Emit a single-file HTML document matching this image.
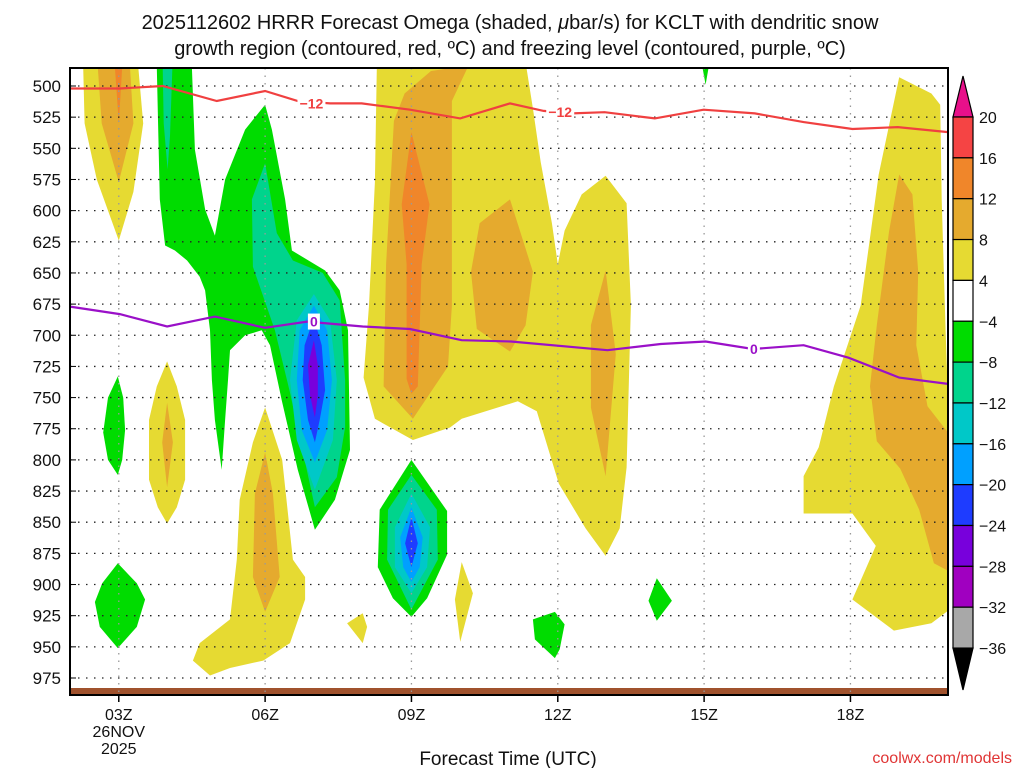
<!DOCTYPE html>
<html><head><meta charset="utf-8"><style>
body{margin:0;background:#fff}
svg{display:block;font-family:"Liberation Sans","DejaVu Sans",sans-serif}
</style></head><body>
<svg id="chart" width="1024" height="768" viewBox="0 0 1024 768" xmlns="http://www.w3.org/2000/svg">
<rect width="1024" height="768" fill="#fff"/>
<text x="510" y="29" font-size="20" text-anchor="middle" fill="#111">2025112602 HRRR Forecast Omega (shaded, <tspan font-style="italic">μ</tspan>bar/s) for KCLT with dendritic snow</text>
<text x="510" y="55" font-size="20" text-anchor="middle" fill="#111">growth region (contoured, red, ºC) and freezing level (contoured, purple, ºC)</text>
<g id="fields"></g>
<g id="grid"></g>
<g id="lines"></g>
<g id="axes"></g>
<g id="cbar"></g>
<text x="508" y="765" font-size="19" text-anchor="middle" fill="#111">Forecast Time (UTC)</text>
<text x="1012" y="763" font-size="16" text-anchor="end" fill="#e03535">coolwx.com/models</text>
</svg>
<script>
// ---- data (hour after 00Z, pressure hPa) ----
const pressureTicks = [500,525,550,575,600,625,650,675,700,725,750,775,800,825,850,875,900,925,950,975];
const hourTicks = [3,6,9,12,15,18];
const hourTickLabels = ["03Z","06Z","09Z","12Z","15Z","18Z"];
const cbarLabels = ["20","16","12","8","4","−4","−8","−12","−16","−20","−24","−28","−32","−36"];

const redLine = [[2,502],[3.02,502],[3.9,500],[5.01,512],[6,504],[6.67,512],[7.33,514],[7.98,514],[8.97,519],[10,526],[11.02,514],[11.71,520],[12.3,522],[12.96,521],[13.99,526],[14.99,519],[16.04,522],[17.04,529],[18.04,534.5],[18.97,533],[20,537]];
const redLabels = [[6.95,514],[12.05,521]];
const purpleLine = [[2,677],[3.02,683],[3.99,693],[4.97,685],[6,694],[6.86,689],[8,693],[8.97,695],[10.03,704],[11.04,705],[13.02,712],[14.11,707],[15.03,705],[16,711],[17.04,708],[17.96,718],[19,734],[20,739]];
const purpleLabels = [[7,689],[16.02,711]];

const yellowLeft = [[2.27,485],[2.3,530],[2.55,575],[3.0,624],[3.3,585],[3.5,530],[3.4,485]];
const goldLeft = [[2.57,485],[2.65,530],[3.0,577],[3.3,530],[3.23,485]];
const orangeLeft = [[2.92,485],[3.0,530],[3.07,485]];
const yellowMid = [[8.29,486],[8.25,577],[8.13,676],[8.02,734],[8.25,767],[9.03,784],[9.79,774],[10.03,767],[11.18,753],[11.57,761],[12.02,819],[12.57,855],[12.98,877],[13.27,855],[13.41,806],[13.5,676],[13.41,594],[12.98,572],[12.49,587],[12.14,616],[12,643],[11.88,610],[11.65,561],[11.49,518],[11.36,486]];
const goldMid = [[9.73,486],[10.14,486],[9.83,512],[9.83,676],[9.75,725],[9.03,767],[8.43,741],[8.48,643],[8.64,528],[8.86,506],[9.4,488]];
const orangeMid = [[9,537],[9.37,595],[9.21,643],[9.13,741],[9,747],[8.9,735],[8.9,643],[8.8,595]];
const goldBlob11 = [[11.02,591],[11.49,649],[11.34,692],[11.02,713],[10.34,695],[10.22,649],[10.4,610]];
const gold13 = [[12.98,648],[13.19,715],[12.98,813],[12.68,758],[12.68,692]];
const yellowRight = [[19,493],[19.66,506],[19.84,515],[19.87,591],[19.95,696],[20,752],[20,921],[19.66,931],[18.89,937],[18.04,912],[18.52,869],[18.04,843],[17.04,843],[17.04,813],[17.35,790],[17.66,741],[18.21,676],[18.58,571]];
const goldRight = [[19,571],[19.27,587],[19.39,649],[19.35,708],[19.58,757],[20,778],[20,889],[19.71,883],[19.41,840],[19.02,807],[18.54,785],[18.4,741],[18.54,692],[18.79,617]];
const yellowSmall4 = [[3.99,721],[4.19,741],[4.36,768],[4.36,816],[4.19,838],[3.99,851],[3.8,838],[3.62,816],[3.62,768],[3.78,741]];
const goldSmall4 = [[3.99,754],[4.11,786],[3.99,822],[3.89,786]];
const yellowLow6 = [[6,758],[6.35,800],[6.57,880],[6.82,894],[6.82,912],[6.51,947],[5.96,961],[5.28,967],[4.87,973],[4.52,961],[4.66,947],[5.28,928],[5.42,880],[5.48,832],[5.75,786]];
const goldLow6 = [[6,794],[6.16,827],[6.3,894],[6,922],[5.75,894],[5.79,827]];
const yellowBit8 = [[8,923],[8.09,934],[8,947],[7.68,931]];
const yellowBit10 = [[10.03,882],[10.26,907],[10,946],[9.89,912]];

const greenBig = [[3.78,485],[4.5,485],[4.56,551],[4.77,599],[4.97,620],[5.18,575],[5.59,535],[6,515],[6.14,535],[6.41,591],[6.55,632],[7.23,648],[7.53,664],[7.7,696],[7.74,792],[7.43,832],[7.02,856],[6.67,808],[6.34,752],[6.1,708],[5.93,696],[5.59,700],[5.28,712],[5.24,736],[5.18,768],[5.11,808],[4.97,768],[4.91,736],[4.87,696],[4.77,664],[4.66,653],[4.4,640],[4.15,632],[3.95,628],[3.84,591]];
const tealLeft = [[3.9,485],[4.1,485],[4.05,540],[4.0,567],[3.92,530]];
const tealMid = [[6,562],[6.24,618],[6.57,640],[7.18,650],[7.53,672],[7.64,736],[7.64,774],[7.47,814],[7.02,838],[6.51,746],[6.2,696],[5.75,645],[5.73,591]];
const cyanMid = [[7,667],[7.33,688],[7.47,736],[7.39,784],[7.02,824],[6.65,784],[6.51,736],[6.65,688]];
const ltblueMid = [[7,676],[7.27,696],[7.37,736],[7.27,776],[7.02,802],[6.75,776],[6.65,736],[6.71,696]];
const blueMid = [[7,686],[7.16,708],[7.23,744],[7.12,768],[7.02,786],[6.88,768],[6.77,736],[6.81,708]];
const purpleMid = [[7,704],[7.08,724],[7.08,748],[7.02,766],[6.92,748],[6.88,724]];
const greenSmall3 = [[2.98,733],[3.09,750],[3.13,776],[3.07,800],[2.98,812],[2.78,800],[2.68,778],[2.78,750]];
const greenLow3 = [[2.98,883],[3.37,899],[3.54,912],[3.37,934],[2.98,951],[2.61,934],[2.51,914],[2.66,899]];
const green9 = [[9,800],[9.73,841],[9.73,876],[9.32,911],[9,926],[8.62,911],[8.31,886],[8.35,840]];
const teal9 = [[9,812],[9.52,840],[9.54,880],[9,920],[8.5,880],[8.52,840]];
const cyan9 = [[9,827],[9.38,854],[9.32,886],[9,907],[8.66,886],[8.66,854]];
const ltblue9 = [[9,838],[9.23,862],[9.17,886],[9,898],[8.83,886],[8.77,862]];
const blue9 = [[9,846],[9.13,867],[9,886],[8.87,867]];
const green12 = [[11.49,928],[11.94,922],[12.14,932],[12.04,952],[11.94,959],[11.53,944]];
const green14 = [[14.03,895],[14.34,913],[14.03,929],[13.86,913]];
const green15 = [[14.97,485.6],[15.09,485.6],[15.03,499]];

// ---- axis functions ----
const X0=70, X1=948, Y0=68, Y1=695, H0=2, H1=20;
function xs(h){return X0+(h-H0)*(X1-X0)/(H1-H0);}
function ys(p){return 86+(p-500)*(678-86)/475;}
const NS="http://www.w3.org/2000/svg";
function mk(tag,attrs,parent){const e=document.createElementNS(NS,tag);for(const k in attrs)e.setAttribute(k,attrs[k]);parent.appendChild(e);return e;}
function ptsStr(a){return a.map(d=>xs(d[0]).toFixed(1)+","+ys(d[1]).toFixed(1)).join(" ");}

const C={y:"#e6da32",g:"#e5aa2e",o:"#f0862a",gr:"#00dc00",t:"#00d48c",c:"#00c8c8",lb:"#00a0ff",b:"#1e3cff",p:"#7800dc"};
const layers=[
 [yellowLeft,C.y,"yellow-left"],[yellowMid,C.y,"yellow-mid"],[yellowRight,C.y,"yellow-right"],[yellowSmall4,C.y,"yellow-small-04z"],[yellowLow6,C.y,"yellow-low-06z"],[yellowBit8,C.y,"yellow-bit-08z"],[yellowBit10,C.y,"yellow-bit-10z"],
 [goldLeft,C.g,"gold-left"],[goldMid,C.g,"gold-mid"],[goldBlob11,C.g,"gold-11z"],[gold13,C.g,"gold-13z"],[goldRight,C.g,"gold-right"],[goldSmall4,C.g,"gold-small-04z"],[goldLow6,C.g,"gold-low-06z"],
 [orangeLeft,C.o,"orange-left"],[orangeMid,C.o,"orange-mid"],
 [greenBig,C.gr,"green-main"],[greenSmall3,C.gr,"green-small-03z"],[greenLow3,C.gr,"green-low-03z"],[green9,C.gr,"green-09z"],[green12,C.gr,"green-12z"],[green14,C.gr,"green-14z"],[green15,C.gr,"green-15z"],
 [tealLeft,C.t,"teal-left"],[tealMid,C.t,"teal-mid"],[teal9,C.t,"teal-09z"],
 [cyanMid,C.c,"cyan-mid"],[cyan9,C.c,"cyan-09z"],
 [ltblueMid,C.lb,"lightblue-mid"],[ltblue9,C.lb,"lightblue-09z"],
 [blueMid,C.b,"blue-mid"],[blue9,C.b,"blue-09z"],
 [purpleMid,C.p,"purple-mid"]
];
const fg=document.getElementById("fields");
const clip=mk("clipPath",{id:"pc"},mk("defs",{},fg));
mk("rect",{x:X0,y:Y0,width:X1-X0,height:Y1-Y0},clip);
const fgc=mk("g",{"clip-path":"url(#pc)"},fg);
layers.forEach(L=>{
  const e=mk("polygon",{points:ptsStr(L[0]),fill:L[1]},fgc);
  
  
});
// ground bar
const gb=mk("rect",{x:X0,y:688,width:X1-X0,height:7,fill:"#a0522d"},fgc);



// grid
const gg=document.getElementById("grid");
pressureTicks.forEach(p=>{
  const l=mk("line",{x1:X0,x2:X1,y1:ys(p),y2:ys(p),stroke:"#222","stroke-width":1.3,"stroke-dasharray":"1.5,6.5"},gg);
  
  
});
hourTicks.forEach(h=>{
  const l=mk("line",{x1:xs(h),x2:xs(h),y1:Y0,y2:Y1,stroke:"#999","stroke-width":1.3,"stroke-dasharray":"1.5,6"},gg);
  
  
});

// contour lines
const lg=document.getElementById("lines");
function drawLine(arr,col,labels,txt,name){
  const e=mk("polyline",{points:ptsStr(arr),fill:"none",stroke:col,"stroke-width":2.2},lg);
  
  
  labels.forEach(d=>{
    const w=txt.length*8+4;
    const r=mk("rect",{x:xs(d[0])-w/2,y:ys(d[1])-8,width:w,height:16,fill:"#fff"},lg);
    
    
    const t=mk("text",{x:xs(d[0]),y:ys(d[1])+5,"font-size":14,"font-weight":"bold","text-anchor":"middle",fill:col},lg);
    t.textContent=txt;
    
    
  });
}
drawLine(redLine,"#f04040",redLabels,"−12","dgz-minus12-contour");
drawLine(purpleLine,"#9a10c8",purpleLabels,"0","freezing-level-contour");

// axes
const ag=document.getElementById("axes");
const fr=mk("rect",{x:X0,y:Y0,width:X1-X0,height:Y1-Y0,fill:"none",stroke:"#000","stroke-width":2},ag);


pressureTicks.forEach(p=>{
  const t=mk("text",{x:61,y:ys(p)+6,"font-size":17,"text-anchor":"end",fill:"#111"},ag);
  t.textContent=p;
  
  
  const tk=mk("line",{x1:X0,x2:X0+6,y1:ys(p),y2:ys(p),stroke:"#000","stroke-width":1},ag);
  
  
});
hourTicks.forEach((h,i)=>{
  const tk=mk("line",{x1:xs(h),x2:xs(h),y1:Y1,y2:Y1+7,stroke:"#000","stroke-width":1.5},ag);
  
  
  const t=mk("text",{x:xs(h),y:720,"font-size":16,"text-anchor":"middle",fill:"#111"},ag);
  t.textContent=hourTickLabels[i];
  
  
});
const d1=mk("text",{x:xs(3),y:737,"font-size":16,"text-anchor":"middle",fill:"#111"},ag);d1.textContent="26NOV";


const d2=mk("text",{x:xs(3),y:754,"font-size":16,"text-anchor":"middle",fill:"#111"},ag);d2.textContent="2025";



// colorbar
const cg=document.getElementById("cbar");
const cbCols=["#f54444","#f0862a","#e5aa2e","#e6da32","#ffffff","#00dc00","#00d48c","#00c8c8","#00a0ff","#1e3cff","#7800dc","#a000c0","#a8a8a8"];
const CBX=953,CBW=20,CBT=117,CBS=40.85;
const tt=mk("polygon",{points:`${CBX},${CBT} ${CBX+CBW},${CBT} ${CBX+CBW/2},76`,fill:"#e8108a",stroke:"#000","stroke-width":1.2},cg);


cbCols.forEach((c,i)=>{
  const r=mk("rect",{x:CBX,y:CBT+i*CBS,width:CBW,height:CBS,fill:c,stroke:"#000","stroke-width":1.2},cg);
  
  
});
const yb=CBT+cbCols.length*CBS;
const bt=mk("polygon",{points:`${CBX},${yb} ${CBX+CBW},${yb} ${CBX+CBW/2},690`,fill:"#000",stroke:"#000","stroke-width":1.2},cg);


cbarLabels.forEach((s,i)=>{
  const t=mk("text",{x:979,y:CBT+i*CBS+6,"font-size":16,fill:"#111"},cg);
  t.textContent=s;
  
  
});
</script>
</body></html>
